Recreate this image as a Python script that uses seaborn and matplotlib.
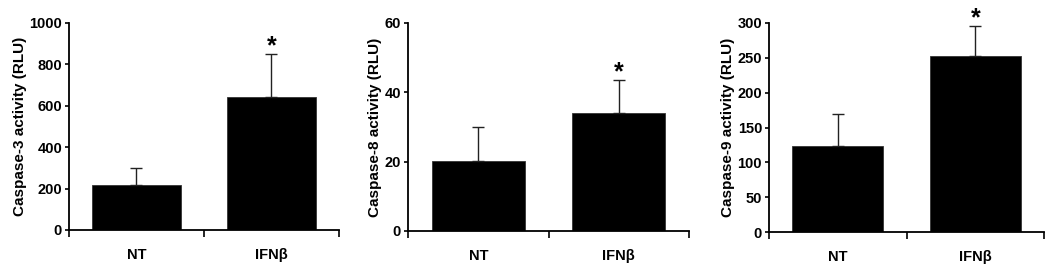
import matplotlib
matplotlib.use('Agg')
import matplotlib.pyplot as plt
import seaborn as sns
import pandas as pd

# данные
groups = ['NT', 'IFNβ']
casp3_mean = [218, 643]
casp3_sd = [80, 207]
casp8_mean = [20.3, 34.0]
casp8_sd = [9.8, 9.5]
casp9_mean = [124, 253]
casp9_sd = [45, 42]

ylabels = ['Caspase-3 activity (RLU)', 'Caspase-8 activity (RLU)', 'Caspase-9 activity (RLU)']
ylims = [1000, 60, 300]
yticks = [[0, 200, 400, 600, 800, 1000], [0, 20, 40, 60], [0, 50, 100, 150, 200, 250, 300]]

sns.set_style('ticks', {'axes.edgecolor': 'black', 'text.color': 'black',
                        'axes.labelcolor': 'black', 'xtick.color': 'black',
                        'ytick.color': 'black'})
plt.rcParams['font.family'] = ['Liberation Sans', 'DejaVu Sans']
plt.rcParams['font.weight'] = 'bold'

fig = plt.figure(figsize=(10.5, 2.68), dpi=100)
boxes = [
    [0.0657, 0.1418, 0.2571, 0.7724],
    [0.3886, 0.1381, 0.2676, 0.7761],
    [0.7324, 0.1343, 0.2619, 0.7799],
]
means_all = [casp3_mean, casp8_mean, casp9_mean]
sds_all = [casp3_sd, casp8_sd, casp9_sd]

for i in range(3):
    ax = fig.add_axes(boxes[i])
    df = pd.DataFrame({'group': groups, 'value': means_all[i]})
    sns.barplot(data=df, x='group', y='value', color='black', saturation=1,
                width=0.66, edgecolor='#333333', linewidth=0.6, ax=ax)
    ax.errorbar([0, 1], means_all[i], yerr=[[0, 0], sds_all[i]], fmt='none',
                ecolor='#222222', elinewidth=1, capsize=4, capthick=1)
    # звёздочка над IFNβ
    top = means_all[i][1] + sds_all[i][1]
    ax.annotate('*', xy=(1, top), xytext=(0, -3), textcoords='offset points',
                ha='center', va='bottom', fontsize=18, fontweight='bold',
                annotation_clip=False)
    ax.set_xlim(-0.5, 1.5)
    ax.set_ylim(0, ylims[i])
    ax.set_yticks(yticks[i])
    ax.set_xlabel('')
    ax.set_ylabel(ylabels[i], fontsize=11, fontweight='bold', labelpad=2)
    ax.set_xticks([-0.5, 0.5, 1.5], minor=True)
    ax.tick_params(axis='x', which='major', length=0, pad=13, labelsize=10.5)
    ax.tick_params(axis='x', which='minor', length=5, width=1.2, direction='out')
    ax.tick_params(axis='y', length=3, width=1.2, pad=2, labelsize=10.5)
    for lab in ax.get_xticklabels() + ax.get_yticklabels():
        lab.set_fontweight('bold')
    sns.despine(ax=ax)
    for s in ['left', 'bottom']:
        ax.spines[s].set_linewidth(1.3)

fig.savefig('out.png', dpi=100)
